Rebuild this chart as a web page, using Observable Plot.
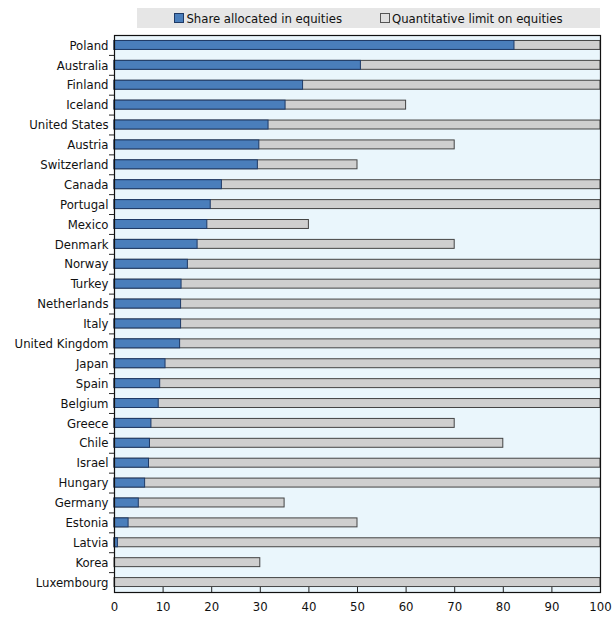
<!DOCTYPE html>
<html>
<head>
<meta charset="utf-8">
<script src="https://cdn.jsdelivr.net/npm/d3@7"></script>
<script src="https://cdn.jsdelivr.net/npm/@observablehq/plot@0.6"></script>
<style>
  html, body { margin: 0; padding: 0; background: #fff; }
  body { font-family: "DejaVu Sans Condensed", "Liberation Sans", sans-serif; position: relative; width: 612px; height: 623px; overflow: hidden; }
  #legend { position: absolute; left: 137px; top: 8px; width: 463px; height: 20px; background: #e6e6e6; display: flex; align-items: center; justify-content: center; gap: 38px; font-size: 13px; color: #111; }
  .sw { display: inline-block; width: 8px; height: 8px; margin-right: 2px; vertical-align: 0px; border: 1px solid #333; }
  #chart { position: absolute; left: 0; top: 30px; }
  #chart svg { display: block; }
</style>
</head>
<body>
<div id="legend">
  <span><span class="sw" style="background:#4a7ebb;border-color:#1f3a66"></span>Share allocated in equities</span>
  <span><span class="sw" style="background:#e0e0e0;border-color:#555"></span>Quantitative limit on equities</span>
</div>
<div id="chart"></div>
<script>
const countries = ["Poland","Australia","Finland","Iceland","United States","Austria","Switzerland","Canada","Portugal","Mexico","Denmark","Norway","Turkey","Netherlands","Italy","United Kingdom","Japan","Spain","Belgium","Greece","Chile","Israel","Hungary","Germany","Estonia","Latvia","Korea","Luxembourg"];
const equityShare = [82.3,50.7,38.8,35.2,31.7,29.8,29.5,22.1,19.8,19.1,17.1,15.1,13.8,13.7,13.7,13.5,10.5,9.4,9.1,7.6,7.3,7.1,6.3,5.0,2.9,0.7,0,0];
const equityLimit = [100,100,100,60,100,70,50,100,100,40,70,100,100,100,100,100,100,100,100,70,80,100,100,35,50,100,30,100];
const xTicks = [0,10,20,30,40,50,60,70,80,90,100];

const data = countries.map((c, i) => ({country: c, share: equityShare[i], limit: equityLimit[i]}));
const inner = countries.slice(0, -1);

const chart = Plot.plot({
  width: 612,
  height: 593,
  marginLeft: 114,
  marginRight: 12,
  marginTop: 5,
  marginBottom: 31,
  style: { fontFamily: '"DejaVu Sans Condensed", "Liberation Sans", sans-serif', fontSize: "13px", color: "#111", background: "white", maxWidth: "none" },
  x: { domain: [0, 100], ticks: xTicks, label: null },
  y: { domain: countries, paddingInner: 0.55, paddingOuter: 0.275, round: false, label: null },
  marks: [
    Plot.frame({ fill: "#eaf6fc" }),
    Plot.barX(data, { y: "country", x: "limit", fill: "#cfcfcf", stroke: "#444", strokeWidth: 1 }),
    Plot.barX(data.filter(d => d.share > 0), { y: "country", x: "share", fill: "#4a7ebb", stroke: "#1f3a66", strokeWidth: 1 }),
    Plot.ruleX(xTicks.slice(1, -1), { x: d => d, insetTop: 552, stroke: "#222" }),
    Plot.tickY(inner, { y: d => d, dy: 9.95, stroke: "#222", insetLeft: -5, insetRight: 486 }),
    Plot.frame({ stroke: "#111", strokeWidth: 1.2 }),
    Plot.axisY({ tickSize: 0, tickPadding: 6 }),
    Plot.axisX({ ticks: xTicks, tickSize: 0, tickPadding: 9 })
  ]
});
document.getElementById("chart").append(chart);
</script>
</body>
</html>
